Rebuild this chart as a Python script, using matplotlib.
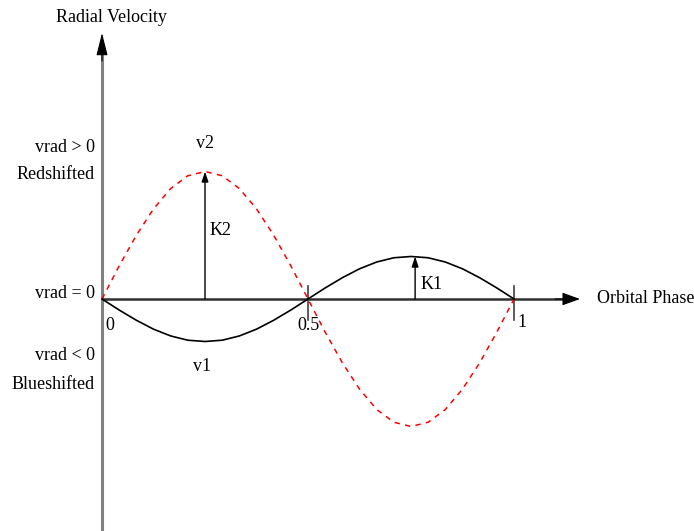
import numpy as np
import matplotlib
matplotlib.use("Agg")
import matplotlib.pyplot as plt

plt.rcParams['font.family'] = ['Liberation Serif', 'DejaVu Serif']

# Orbital phase samples and the two radial-velocity curves
# (units: K1 = 1)
phase = [0.0, 0.0417, 0.0833, 0.125, 0.1667, 0.2083, 0.25, 0.2917, 0.3333,
         0.375, 0.4167, 0.4583, 0.5, 0.5417, 0.5833, 0.625, 0.6667, 0.7083,
         0.75, 0.7917, 0.8333, 0.875, 0.9167, 0.9583, 1.0]
v1 = [0.0, -0.26, -0.5, -0.71, -0.87, -0.97, -1.0, -0.97, -0.87, -0.71, -0.5,
      -0.26, 0.0, 0.26, 0.5, 0.71, 0.87, 0.97, 1.0, 0.97, 0.87, 0.71, 0.5,
      0.26, 0.0]
v2 = [0.0, 0.78, 1.5, 2.12, 2.6, 2.9, 3.0, 2.9, 2.6, 2.12, 1.5, 0.78, 0.0,
      -0.78, -1.5, -2.12, -2.6, -2.9, -3.0, -2.9, -2.6, -2.12, -1.5, -0.78, 0.0]

K1_phase, K1 = 0.76, 1.0
K2_phase, K2 = 0.25, 3.0

tick_pos = [0.5, 1.0]
tick_labels = [("0", 0.019, -0.62), ("0.5", 0.5, -0.62), ("1", 1.02, -0.55)]

fig = plt.figure(figsize=(6.94, 5.31), dpi=100)
ax = fig.add_axes([0, 0, 1, 1])
ax.set_xlim(-0.2476, 1.4369)
ax.set_ylim(-5.459, 7.035)
ax.axis('off')

# axes of the sketch
ax.plot([0, 0], [-5.6, 5.8], color='#808080', lw=2.2, solid_capstyle='butt')
ax.annotate('', xy=(0, 6.26), xytext=(0, 5.6),
            arrowprops=dict(arrowstyle='-|>,head_length=1.4,head_width=0.35',
                            color='black', lw=0.8, shrinkA=0, shrinkB=0))
ax.plot([0, 1.12], [0, 0], color='#303030', lw=1.8, solid_capstyle='butt')
ax.annotate('', xy=(1.16, 0), xytext=(1.10, 0),
            arrowprops=dict(arrowstyle='-|>,head_length=1.1,head_width=0.4',
                            color='black', lw=0.8, shrinkA=0, shrinkB=0))
for t in tick_pos:
    ax.plot([t, t], [0.3, -0.5], color='#404040', lw=1.2)

# curves
ax.plot(phase, v2, color='red', lw=1.1, ls=(0, (3.5, 3.5)))
ax.plot(phase, v1, color='black', lw=1.2)

# amplitude arrows
ax.annotate('', xy=(K2_phase, K2), xytext=(K2_phase, 0),
            arrowprops=dict(arrowstyle='-|>,head_length=0.6,head_width=0.2',
                            color='black', lw=1.0, shrinkA=0, shrinkB=0))
ax.annotate('', xy=(K1_phase, K1), xytext=(K1_phase, 0),
            arrowprops=dict(arrowstyle='-|>,head_length=0.6,head_width=0.2',
                            color='black', lw=1.0, shrinkA=0, shrinkB=0))

fs = 13
ax.text(0.024, 6.635, "Radial Velocity", fontsize=fs, ha='center', va='center')
ax.text(-0.017, 3.553, "vrad > 0", fontsize=fs, ha='right', va='center')
ax.text(-0.017, 2.94, "Redshifted", fontsize=fs, ha='right', va='center')
ax.text(-0.017, 0.14, "vrad = 0", fontsize=fs, ha='right', va='center')
ax.text(-0.017, -1.32, "vrad < 0", fontsize=fs, ha='right', va='center')
ax.text(-0.017, -2.02, "Blueshifted", fontsize=fs, ha='right', va='center')
ax.text(0.25, 3.67, "v2", fontsize=fs, ha='center', va='center')
ax.text(0.262, 1.62, "K2", fontsize=fs, ha='left', va='center')
ax.text(0.243, -1.6, "v1", fontsize=fs, ha='center', va='center')
ax.text(0.772, 0.35, "K1", fontsize=fs, ha='left', va='center')
ax.text(1.201, 0.0, "Orbital Phase", fontsize=fs, ha='left', va='center')
for lab, x, y in tick_labels:
    ax.text(x, y, lab, fontsize=fs, ha='center', va='center')

fig.savefig("out.png", dpi=100)
